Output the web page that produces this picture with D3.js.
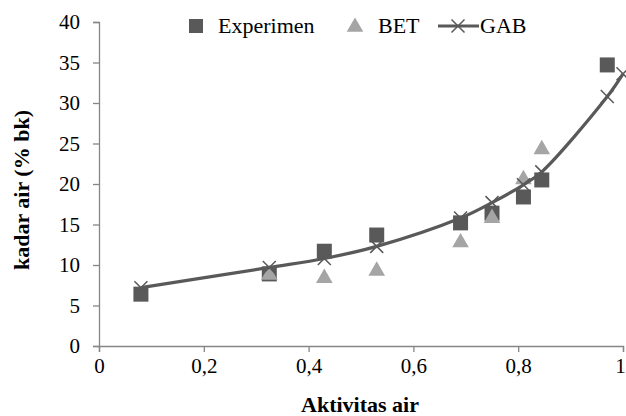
<!DOCTYPE html>
<html>
<head>
<meta charset="utf-8">
<script src="https://cdn.jsdelivr.net/npm/d3@7"></script>
<style>
  body { margin: 0; background: #fff; }
  text { font-family: "Liberation Serif", "Times New Roman", serif; }
</style>
</head>
<body>
<svg id="chart" width="626" height="416"></svg>
<script>
// data
const expX = [0.08, 0.325, 0.43, 0.53, 0.69, 0.75, 0.81, 0.845, 0.97];
const expY = [6.4, 8.9, 11.7, 13.7, 15.2, 16.4, 18.4, 20.5, 34.7];

const betX = [0.325, 0.43, 0.53, 0.69, 0.75, 0.81, 0.845];
const betY = [8.9, 8.5, 9.4, 12.9, 15.9, 20.7, 24.4];

const gabX = [0.08, 0.325, 0.43, 0.53, 0.69, 0.75, 0.81, 0.845, 0.97, 1.0];
const gabY = [7.2, 9.7, 10.8, 12.3, 15.8, 17.7, 19.9, 21.5, 30.8, 33.6];

const xTicks = [0, 0.2, 0.4, 0.6, 0.8, 1];
const yTicks = [0, 5, 10, 15, 20, 25, 30, 35, 40];

const dark = '#595959', light = '#a5a5a5', axisCol = '#868686';
const fs = '21px';

const svg = d3.select('#chart');
const margin = { left: 99, right: 3, top: 22, bottom: 70 };
const W = 626, H = 416;

const x = d3.scaleLinear().domain([0, 1]).range([margin.left, W - margin.right]);
const y = d3.scaleLinear().domain([0, 40]).range([H - margin.bottom, margin.top]);

// axes
const xAxis = svg.append('g')
    .attr('transform', `translate(0,${y(0)})`)
    .call(d3.axisBottom(x).tickValues(xTicks).tickSize(6).tickPadding(6)
        .tickFormat(d => String(d).replace('.', ',')));
const yAxis = svg.append('g')
    .attr('transform', `translate(${x(0)},0)`)
    .call(d3.axisLeft(y).tickValues(yTicks).tickSize(6).tickPadding(13));

[xAxis, yAxis].forEach(g => {
    g.select('.domain').attr('stroke', axisCol).attr('stroke-width', 1.3);
    g.selectAll('.tick line').attr('stroke', axisCol).attr('stroke-width', 1.3);
    g.selectAll('.tick text')
        .attr('fill', '#000')
        .style('font-family', '"Liberation Serif", serif')
        .style('font-size', fs);
});
// last x label sits on the right edge
xAxis.selectAll('.tick text').filter(d => d === 1).attr('x', -3);

// axis titles
svg.append('text')
    .attr('x', 360)
    .attr('y', 412)
    .attr('text-anchor', 'middle')
    .style('font-size', '22px')
    .style('font-weight', 'bold')
    .text('Aktivitas air');

svg.append('text')
    .attr('transform', 'translate(29,190) rotate(-90)')
    .attr('text-anchor', 'middle')
    .style('font-size', '22px')
    .style('font-weight', 'bold')
    .text('kadar air (% bk)');

// GAB line (smoothed)
const gab = gabX.map((v, i) => [v, gabY[i]]);
const line = d3.line().x(d => x(d[0])).y(d => y(d[1])).curve(d3.curveCatmullRom.alpha(0.5));

// x marker path
function cross(s) {
    return `M${-s},${-s}L${s},${s}M${-s},${s}L${s},${-s}`;
}

// Experimen squares
const sq = 15;
svg.append('g').selectAll('rect')
    .data(expX.map((v, i) => [v, expY[i]]))
    .join('rect')
    .attr('x', d => x(d[0]) - sq / 2)
    .attr('y', d => y(d[1]) - sq / 2)
    .attr('width', sq)
    .attr('height', sq)
    .attr('fill', dark);

// BET triangles
const tri = d3.symbol().type(d3.symbolTriangle).size(120);
svg.append('g').selectAll('path')
    .data(betX.map((v, i) => [v, betY[i]]))
    .join('path')
    .attr('transform', d => `translate(${x(d[0])},${y(d[1]) + 1})`)
    .attr('d', tri)
    .attr('fill', light);

svg.append('path')
    .datum(gab)
    .attr('d', line)
    .attr('fill', 'none')
    .attr('stroke', dark)
    .attr('stroke-width', 3.2);

svg.append('g').selectAll('path')
    .data(gab)
    .join('path')
    .attr('transform', d => `translate(${x(d[0])},${y(d[1])})`)
    .attr('d', cross(6.5))
    .attr('stroke', dark)
    .attr('stroke-width', 1.5)
    .attr('fill', 'none');

// legend
const lg = svg.append('g').attr('transform', 'translate(0,26)');
lg.append('rect').attr('x', 189).attr('y', -7).attr('width', 14).attr('height', 14).attr('fill', dark);
lg.append('text').attr('x', 218).attr('y', 7).style('font-size', '22px').text('Experimen');
lg.append('path').attr('transform', 'translate(355,1)').attr('d', tri).attr('fill', light);
lg.append('text').attr('x', 378).attr('y', 7).style('font-size', '22px').text('BET');
lg.append('line').attr('x1', 438).attr('x2', 479).attr('y1', 0).attr('y2', 0)
    .attr('stroke', dark).attr('stroke-width', 3.2);
lg.append('path').attr('transform', 'translate(458,0)').attr('d', cross(6.5))
    .attr('stroke', dark).attr('stroke-width', 1.5);
lg.append('text').attr('x', 480).attr('y', 7).style('font-size', '22px').text('GAB');
</script>
</body>
</html>
